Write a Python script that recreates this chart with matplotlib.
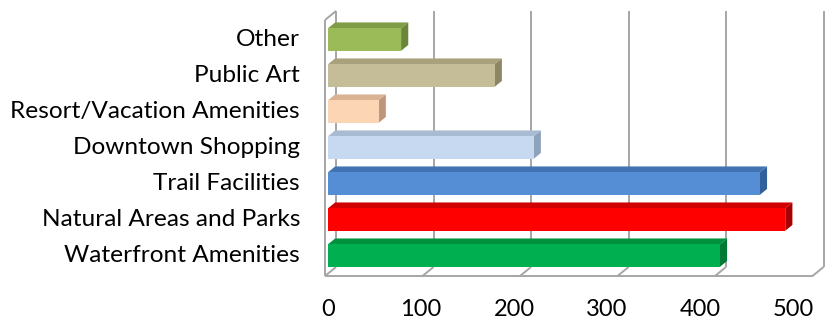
import matplotlib
matplotlib.use("Agg")
import matplotlib.pyplot as plt
from matplotlib.patches import Polygon

# ── Data ───────────────────────────────────────────────────────────────────────
categories = ["Waterfront Amenities", "Natural Areas and Parks", "Trail Facilities",
              "Downtown Shopping", "Resort/Vacation Amenities", "Public Art", "Other"]
values = [402, 469, 443, 211, 52, 171, 75]
x_ticks = [0, 100, 200, 300, 400, 500]

front_colors = ["#00B050", "#FF0000", "#558ED5", "#C6D9F1", "#FCD5B5", "#C4BD97", "#9BBB59"]
top_colors   = ["#00913F", "#D00000", "#4273B3", "#A9BBD3", "#D9B293", "#A8A17C", "#809C47"]
side_colors  = ["#007A34", "#A80000", "#32609A", "#8FA2BC", "#BF967A", "#8C8664", "#6B853A"]

# ── 3-D look (oblique projection, data units) ─────────────────────────────────
DX, DY = 11.3, 0.25      # wall depth offset
D0, D1 = 0.27, 0.92      # bar front / back depth
BAR_H = 0.625
Y_LO, Y_HI = -0.5, 6.61
GRID = "#A6A6A6"
FONT = "Lato"

fig = plt.figure(figsize=(8.38, 3.22), dpi=100)
ax = fig.add_axes([325 / 838, 46 / 322, 487.5 / 838, 256 / 322])
ax.set_xlim(0, 500)
ax.set_ylim(Y_LO, Y_HI)
ax.axis("off")

line_kw = dict(color=GRID, linewidth=1.4, clip_on=False, zorder=1,
               solid_capstyle="butt")

# back-wall gridlines + floor diagonals
for t in x_ticks:
    ax.plot([t + DX, t + DX], [Y_LO + DY, Y_HI + DY], **line_kw)
    ax.plot([t, t + DX], [Y_LO, Y_LO + DY], **line_kw)
# floor front edge, left wall
ax.plot([0, x_ticks[-1]], [Y_LO, Y_LO], **line_kw)
ax.plot([0, 0], [Y_LO, Y_HI], **line_kw)
ax.plot([0, DX], [Y_HI, Y_HI + DY], **line_kw)

# bars
bx, by = (D1 - D0) * DX, (D1 - D0) * DY
for i, (v, cf, ct, cs) in enumerate(zip(values, front_colors, top_colors, side_colors)):
    x0 = D0 * DX
    yc = i + D0 * DY
    y0, y1 = yc - BAR_H / 2, yc + BAR_H / 2
    front = [(x0, y0), (x0 + v, y0), (x0 + v, y1), (x0, y1)]
    top = [(x0, y1), (x0 + v, y1), (x0 + v + bx, y1 + by), (x0 + bx, y1 + by)]
    side = [(x0 + v, y0), (x0 + v + bx, y0 + by), (x0 + v + bx, y1 + by), (x0 + v, y1)]
    for pts, c in ((top, ct), (side, cs), (front, cf)):
        ax.add_patch(Polygon(pts, closed=True, facecolor=c, edgecolor="none",
                             clip_on=False, zorder=3))
    ax.text(-25.6, yc, categories[i], ha="right", va="center", fontsize=17.6,
            family=FONT, color="#000000", clip_on=False)

# value-axis labels
for t in x_ticks:
    ax.text(3.08 + 0.954 * t, -1.417, str(t), ha="center", va="center",
            fontsize=17, family=FONT, color="#000000", clip_on=False)

fig.savefig("out.png", dpi=100)
